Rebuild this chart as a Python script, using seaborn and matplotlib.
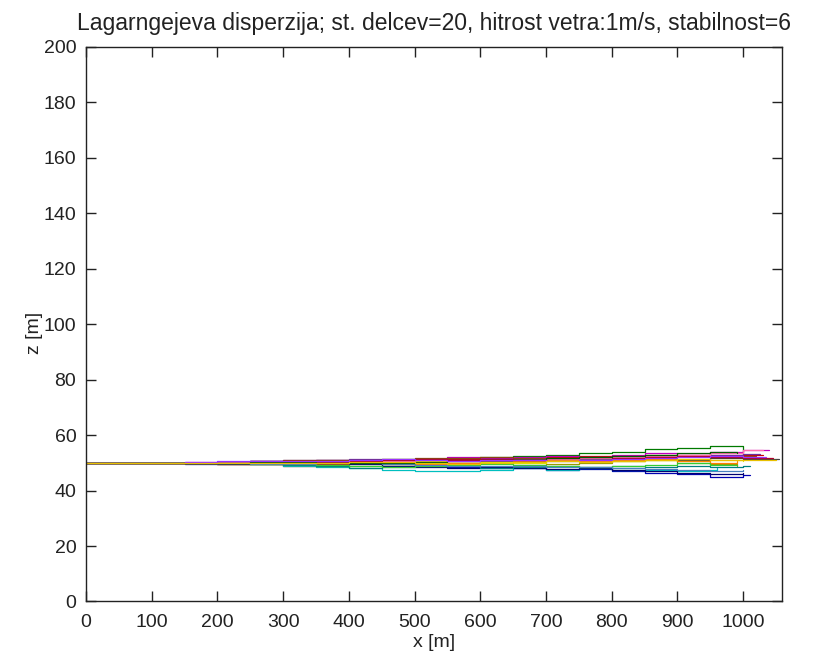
import numpy as np
import pandas as pd
import seaborn as sns
import matplotlib
matplotlib.use('Agg')
import matplotlib.pyplot as plt

# x positions of the step nodes (m)
x_nodes = [0, 100, 150, 200, 250, 300, 350, 400, 450, 500, 550,
           600, 650, 700, 750, 800, 850, 900, 950, 1000]

# z of each particle at the nodes (m)
z_p01 = [50, 50, 50, 50.2, 50.5, 50.8, 50.5, 50, 49.5, 49, 48.5, 48.3, 48, 47.5, 47.8, 47, 46.5, 46, 45, 45.5]
z_p02 = [50, 50, 49.8, 49.5, 49.8, 50, 50.5, 51, 51.5, 51, 51.5, 52, 52.5, 53, 53.5, 54, 55, 55.5, 56, 54]
z_p03 = [50, 50, 50, 49.7, 49.5, 49, 49.5, 50, 50.5, 51, 51.5, 51, 51.5, 52, 52.5, 52, 52.8, 53, 53.5, 53]
z_p04 = [50, 50, 50, 50, 49.6, 49, 48.5, 48, 47.5, 47.2, 47, 47.5, 48, 47.5, 48, 47.6, 47.3, 47, 47.5, 48]
z_p05 = [50, 50, 50.2, 50.3, 50.5, 50.8, 51, 51.2, 51, 51.5, 52, 51.8, 52, 52.5, 52, 53, 53.5, 53, 54, 54.5]
z_p06 = [50, 50, 50, 49.8, 49.5, 49.3, 49, 48.8, 49, 49.5, 50, 50.5, 50, 49.5, 50, 50.5, 51, 50, 49.5, 49]
z_p07 = [50, 50, 50, 50.3, 50.5, 50.8, 51, 50.5, 50.8, 51.5, 51, 51.3, 51.5, 51, 51.5, 52, 51.5, 51, 51.8, 51.5]
z_p08 = [50, 50, 50, 50.4, 50.8, 51, 51.2, 51.5, 51, 51.3, 51, 50.5, 50.8, 51, 51.3, 51.6, 52, 52.4, 52.8, 53.2]
z_p09 = [50, 50, 50, 49.6, 49.8, 50, 50.2, 50.5, 49, 49.5, 50, 50.2, 50.6, 51, 50.5, 51, 51.3, 50.5, 50, 50.6]
z_p10 = [50, 50, 50, 49.8, 49.7, 49.5, 49.4, 49.8, 50.3, 50.6, 50.5, 50.2, 50, 50.5, 51, 50.8, 51.2, 51.5, 51, 50.7]
z_p11 = [50, 50, 49.7, 49.5, 49.6, 49.8, 50, 49.5, 49, 48.6, 48.3, 48.5, 48, 47.8, 48, 47.5, 47.2, 46.5, 46, 46.3]
z_p12 = [50, 50, 50, 50, 49.8, 49.3, 48.8, 48.3, 48.6, 49, 48.7, 48.2, 48.5, 49, 48.6, 49, 48.5, 49, 48.5, 48.8]
z_p13 = [50, 50, 50.1, 50.3, 50.6, 50.9, 51.2, 51, 51.3, 51.6, 51.8, 52, 51.6, 51.9, 52.2, 52.5, 52.2, 52.6, 52.2, 52.5]
z_p14 = [50, 50, 50, 50.2, 50, 49.8, 50, 50.3, 50.7, 50.4, 50.8, 51.2, 51, 51.4, 51.8, 52.2, 52.5, 53, 53.5, 54.5]
z_p15 = [50, 50, 50, 49.8, 49.6, 49.7, 49.2, 48.9, 48.5, 48.8, 49.2, 49.6, 49.2, 49, 48.6, 49, 49.4, 49.8, 49.4, 49.2]
z_p16 = [50, 50, 50, 50.1, 50.3, 50.5, 50.2, 50.6, 51, 51.3, 51, 51.5, 51.2, 51.6, 52, 51.7, 52, 52.4, 52, 51.8]
z_p17 = [50, 50, 50, 49.9, 49.7, 49.5, 49.8, 50, 49.6, 49.2, 49, 48.8, 49, 48.6, 48.4, 48, 47.7, 47.5, 47, 47.4]
z_p18 = [50, 50, 50, 50, 50.2, 50.4, 50.1, 49.8, 50, 50.3, 50.6, 50.9, 51.2, 51.6, 52, 52.5, 53, 53.4, 53.8, 53.5]
z_p19 = [50, 50, 50.2, 50.5, 50.7, 50.5, 50.8, 51, 51.3, 51, 50.6, 50.9, 51.2, 50.8, 51.2, 51.5, 51.8, 52.1, 52.6, 52.2]
z_p20 = [50, 50, 50, 50, 49.9, 49.8, 50.1, 50.4, 50.2, 50, 49.7, 50, 50.3, 50.6, 50.3, 50.7, 51, 51.3, 50.9, 51.2]

# where each particle's track ends (m)
x_end = [1010, 1000, 1030, 960, 1040, 990, 1055, 1025, 990, 1000,
         1000, 1010, 1020, 1030, 990, 1045, 1000, 990, 1035, 1050]

colors = ['#0000b0', '#007a00', '#d00000', '#00bfbf', '#bf00bf', '#9a9a00', '#404040',
          '#6a2ca0', '#ff8000', '#e0e000', '#000070', '#008080', '#8b4513', '#ff6fb0',
          '#33cc33', '#b0002a', '#4a7fbf', '#005a00', '#9b30ff', '#e8c000']

tracks = [z_p01, z_p02, z_p03, z_p04, z_p05, z_p06, z_p07, z_p08, z_p09, z_p10,
          z_p11, z_p12, z_p13, z_p14, z_p15, z_p16, z_p17, z_p18, z_p19, z_p20]

rows = []
for i, z in enumerate(tracks):
    xs = x_nodes + [x_end[i]]
    zs = z + [z[-1]]
    for k in range(len(xs)):
        if xs[k] <= x_end[i]:
            rows.append({'particle': i, 'step': k, 'x': xs[k], 'z': zs[k]})
df = pd.DataFrame(rows)

sns.set_style('ticks')
plt.rcParams['font.family'] = ['Liberation Sans', 'DejaVu Sans']

fig = plt.figure(figsize=(8.23, 6.59), dpi=100)
ax = fig.add_axes([0.1045, 0.0873, 0.8455, 0.8414])

sns.lineplot(data=df, x='x', y='z', hue='particle', units='particle', estimator=None,
             sort=False, palette=colors, legend=False, linewidth=0.9,
             drawstyle='steps-post', ax=ax)

ax.set_xlim(0, 1059)
ax.set_ylim(0, 200)
ax.set_xticks(np.arange(0, 1001, 100))
ax.set_yticks(np.arange(0, 201, 20))
ax.tick_params(direction='in', top=True, right=True, length=7, width=1,
               labelsize=14, colors='#222222')
ax.tick_params(axis='x', pad=9)
ax.tick_params(axis='y', pad=7)
for s in ax.spines.values():
    s.set_color('#222222')
    s.set_linewidth(1)

ax.set_xlabel('x [m]', fontsize=14, color='#222222')
ax.set_ylabel('z [m]', fontsize=14, color='#222222')
ax.xaxis.set_label_coords(0.5, -0.058)
ax.yaxis.set_label_coords(-0.062, 0.485)
ax.set_title('Lagarngejeva disperzija; st. delcev=20, hitrost vetra:1m/s, stabilnost=6',
             fontsize=16.5, pad=12, color='#222222')

fig.savefig('out.png', dpi=100)
